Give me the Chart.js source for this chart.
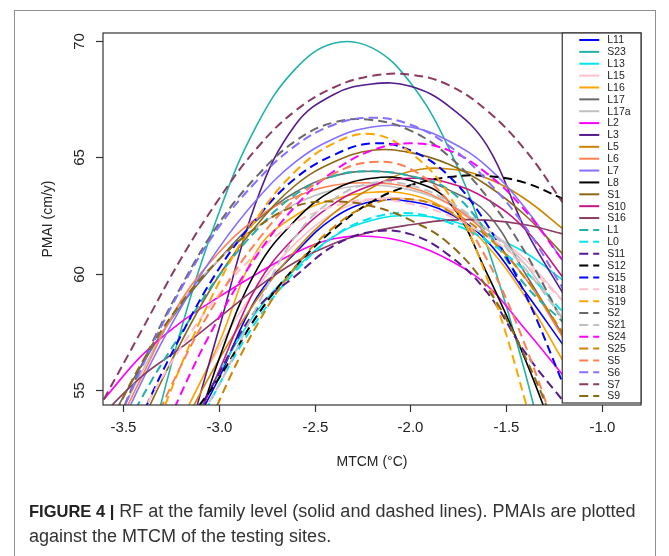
<!DOCTYPE html>
<html>
<head>
<meta charset="utf-8">
<script src="https://cdn.jsdelivr.net/npm/chart.js@4.4.1/dist/chart.umd.min.js"></script>
<style>
  body { margin: 0; background: #fff; }
  #wrap { position: relative; width: 669px; height: 556px; overflow: hidden; }
  #frame { position: absolute; left: 14px; top: 10px; width: 642px; height: 600px; border: 1.5px solid #8f8f8f; box-sizing: border-box; }
  #graf { position: absolute; left: 0; top: 0; }
  #caption { position: absolute; left: 29px; top: 499px; width: 625px; font-family: "Liberation Sans", Arial, sans-serif; font-size: 18px; line-height: 25px; color: #333; letter-spacing: 0; }
  #caption b { color: #222; font-size: 16.5px; }
</style>
</head>
<body>
<div id="wrap">
  <div id="frame"></div>
  <canvas id="graf" width="669" height="556"></canvas>
  <div id="caption"><b>FIGURE 4 |</b> RF at the family level (solid and dashed lines). PMAIs are plotted against the MTCM of the testing sites.</div>
</div>
<script>
// MTCM valores (eixo x)
const xValues = [-3.6, -3.4, -3.2, -3.0, -2.8, -2.6, -2.4, -2.2, -2.0, -1.8, -1.6, -1.4, -1.2];

// linhas solidas
const L11  = [44.0, 48.5, 52.3, 55.5, 59.0, 60.9, 62.4, 63.1, 63.1, 62.6, 61.4, 59.2, 56.9];
const S23  = [43.4, 51.1, 57.5, 62.6, 66.4, 68.8, 69.9, 69.7, 68.2, 65.4, 61.2, 55.7, 48.9];
const L13  = [45.0, 48.8, 52.5, 55.7, 58.4, 60.2, 61.6, 62.3, 62.5, 62.3, 61.7, 60.9, 59.7];
const L15  = [45.3, 49.8, 53.6, 56.8, 59.4, 61.3, 62.6, 63.2, 63.2, 62.8, 61.9, 60.6, 58.8];
const L16  = [46.0, 50.0, 53.6, 57.0, 61.0, 62.5, 63.2, 63.5, 63.4, 62.7, 61.2, 59.0, 56.2];
const L17  = [53.2, 56.1, 58.6, 60.6, 62.3, 63.5, 64.2, 64.4, 64.2, 63.6, 62.6, 60.0, 57.3];
const L17a = [52.5, 55.8, 58.7, 60.6, 62.0, 63.0, 63.6, 63.8, 63.6, 63.0, 61.9, 60.4, 58.0];
const L2   = [54.6, 56.5, 57.9, 59.0, 60.0, 60.9, 61.5, 61.6, 61.3, 60.6, 59.5, 57.6, 55.6];
const L3   = [40.0, 46.0, 51.8, 57.6, 63.2, 66.4, 67.7, 68.15, 68.05, 67.2, 65.5, 61.9, 59.1];
const L5   = [45.5, 49.6, 53.2, 56.3, 58.9, 61.0, 62.6, 63.7, 64.4, 64.5, 64.1, 63.2, 61.9];
const L6   = [52.2, 55.6, 58.8, 60.9, 62.4, 63.3, 63.8, 63.9, 63.7, 63.0, 61.7, 59.8, 57.2];
const L7   = [51.8, 55.4, 58.5, 61.1, 63.2, 64.8, 65.8, 66.3, 66.3, 65.7, 64.6, 62.8, 60.5];
const L8   = [41.0, 46.0, 51.0, 56.3, 60.2, 62.3, 63.6, 64.1, 64.0, 63.1, 60.0, 56.3, 52.0];
const S1   = [49.5, 53.6, 57.0, 59.9, 62.1, 63.8, 64.8, 65.3, 65.2, 64.7, 63.8, 62.5, 60.8];
const S10  = [44.0, 48.3, 52.2, 55.8, 59.5, 61.6, 63.0, 63.8, 64.1, 63.9, 63.2, 61.9, 59.8];
const S16  = [54.0, 55.6, 56.8, 58.1, 59.4, 60.5, 61.3, 61.8, 62.1, 62.3, 62.3, 62.1, 61.7];

// linhas tracejadas
const L1   = [51.5, 54.7, 57.4, 59.9, 61.9, 63.4, 64.2, 64.4, 64.2, 63.6, 61.8, 59.5, 57.9];
const L0   = [42.9, 47.7, 51.8, 55.2, 58.0, 60.1, 61.6, 62.4, 62.6, 62.2, 61.4, 60.1, 58.3];
const S11  = [44.0, 48.5, 52.5, 55.7, 58.5, 59.9, 61.2, 61.8, 61.7, 60.8, 59.2, 56.6, 54.5];
const S12  = [47.0, 50.3, 53.2, 55.5, 58.2, 60.3, 61.9, 63.1, 63.8, 64.15, 64.2, 63.9, 63.2];
const S15  = [49.8, 53.9, 57.3, 60.2, 62.4, 64.1, 65.1, 65.6, 65.3, 64.2, 62.1, 59.1, 55.2];
const S18  = [50.7, 54.0, 56.8, 59.1, 60.9, 62.2, 62.9, 63.2, 63.0, 62.5, 61.6, 60.4, 58.8];
const S19  = [46.4, 51.6, 56.0, 59.6, 62.4, 64.4, 65.6, 66.0, 65.2, 63.4, 59.8, 54.5, 48.0];
const S2   = [52.1, 56.1, 59.4, 62.15, 64.2, 65.7, 66.5, 66.6, 66.15, 65.05, 63.3, 60.9, 57.85];
const S21  = [46.0, 49.5, 52.5, 55.2, 58.6, 61.6, 63.2, 63.9, 63.8, 63.1, 61.9, 60.2, 58.0];
const S24  = [46.4, 50.9, 54.8, 58.1, 60.8, 62.9, 64.4, 65.3, 65.6, 65.3, 64.3, 62.7, 60.5];
const S25  = [40.1, 45.7, 50.5, 54.5, 57.8, 60.3, 62.0, 63.0, 63.2, 62.7, 61.6, 59.8, 57.4];
const S5   = [48.0, 52.3, 56.0, 59.0, 61.4, 63.2, 64.3, 64.8, 64.5, 63.1, 60.6, 56.9, 52.2];
const S6   = [52.2, 56.0, 59.3, 62.0, 64.0, 65.5, 66.4, 66.7, 66.4, 65.5, 64.0, 62.0, 59.3];
const S7   = [54.6, 57.6, 60.6, 63.2, 65.4, 67.0, 68.0, 68.5, 68.55, 68.1, 67.0, 65.3, 63.0];
const S9   = [53.0, 56.2, 58.7, 60.6, 62.0, 62.9, 63.1, 62.9, 62.3, 61.3, 59.4, 56.4, 52.5];

// ticks
const xTicks = [-3.5, -3.0, -2.5, -2.0, -1.5, -1.0];
const yTicks = [55, 60, 65, 70];

const series = [
    ['L11', L11, '#0000FF', false], ['S23', S23, '#20B2AA', false], ['L13', L13, '#00E5EE', false],
    ['L15', L15, '#FFC0CB', false], ['L16', L16, '#FFA500', false], ['L17', L17, '#696969', false],
    ['L17a', L17a, '#C0C0C0', false], ['L2', L2, '#FF00FF', false], ['L3', L3, '#551A8B', false],
    ['L5', L5, '#CD8500', false], ['L6', L6, '#FF7F50', false], ['L7', L7, '#8470FF', false],
    ['L8', L8, '#000000', false], ['S1', S1, '#8B6914', false], ['S10', S10, '#C71585', false],
    ['S16', S16, '#8B3A62', false],
    ['L1', L1, '#20B2AA', true], ['L0', L0, '#00E5EE', true], ['S11', S11, '#551A8B', true],
    ['S12', S12, '#000000', true], ['S15', S15, '#0000FF', true], ['S18', S18, '#FFC0CB', true],
    ['S19', S19, '#FFA500', true], ['S2', S2, '#696969', true], ['S21', S21, '#C0C0C0', true],
    ['S24', S24, '#FF00FF', true], ['S25', S25, '#CD8500', true], ['S5', S5, '#FF7F50', true],
    ['S6', S6, '#8470FF', true], ['S7', S7, '#8B3A62', true], ['S9', S9, '#8B6914', true]
];

const DASH = [9, 5];

const datasets = series.map(function (s, i) {
    return {
        label: s[0],
        data: xValues.map(function (x, j) { return {x: x, y: s[1][j]}; }),
        borderColor: s[2],
        borderWidth: s[3] ? 2 : 1.6,
        borderDash: s[3] ? DASH : [],
        pointRadius: 0,
        tension: 0.4,
        fill: false,
        order: series.length - i
    };
});

// eixos, moldura e legenda estilo R
const rAxes = {
    id: 'rAxes',
    afterDraw: function (chart) {
        const ctx = chart.ctx;
        const a = chart.chartArea;
        const xs = chart.scales.x;
        const ys = chart.scales.y;
        ctx.save();
        ctx.strokeStyle = '#333';
        ctx.lineWidth = 1.2;
        ctx.strokeRect(a.left, a.top, a.right - a.left, a.bottom - a.top);

        ctx.fillStyle = '#222';
        ctx.font = '15px "Liberation Sans", Arial, sans-serif';
        ctx.textAlign = 'center';
        ctx.textBaseline = 'middle';
        xTicks.forEach(function (t) {
            const px = Math.round(xs.getPixelForValue(t)) + 0.5;
            ctx.beginPath();
            ctx.moveTo(px, a.bottom);
            ctx.lineTo(px, a.bottom + 7);
            ctx.stroke();
            ctx.fillText(t.toFixed(1), px, a.bottom + 23);
        });
        yTicks.forEach(function (t) {
            const py = Math.round(ys.getPixelForValue(t)) + 0.5;
            ctx.beginPath();
            ctx.moveTo(a.left, py);
            ctx.lineTo(a.left - 7, py);
            ctx.stroke();
            ctx.save();
            ctx.translate(a.left - 23, py);
            ctx.rotate(-Math.PI / 2);
            ctx.fillText(String(t), 0, 0);
            ctx.restore();
        });

        ctx.font = '14px "Liberation Sans", Arial, sans-serif';
        ctx.fillText('MTCM (°C)', (a.left + a.right) / 2, a.bottom + 57);
        ctx.save();
        ctx.translate(a.left - 55, (a.top + a.bottom) / 2);
        ctx.rotate(-Math.PI / 2);
        ctx.fillText('PMAI (cm/y)', 0, 0);
        ctx.restore();

        // legenda
        const lx = xs.getPixelForValue(-1.2) - 1.5;
        const lb = a.bottom - 2;
        ctx.fillStyle = '#fff';
        ctx.fillRect(lx, a.top, a.right - lx, lb - a.top);
        ctx.strokeStyle = '#333';
        ctx.strokeRect(lx, a.top, a.right - lx, lb - a.top);
        ctx.font = '10.5px "Liberation Sans", Arial, sans-serif';
        ctx.textAlign = 'left';
        const step = 11.87;
        series.forEach(function (s, i) {
            const y = a.top + 7 + step * i;
            ctx.beginPath();
            ctx.strokeStyle = s[2];
            ctx.lineWidth = 2;
            ctx.setLineDash(s[3] ? DASH : []);
            ctx.moveTo(lx + 17, y);
            ctx.lineTo(lx + 37, y);
            ctx.stroke();
            ctx.setLineDash([]);
            ctx.fillStyle = '#222';
            ctx.fillText(s[0], lx + 45, y + 0.5);
        });
        ctx.restore();
    }
};

new Chart(document.getElementById('graf').getContext('2d'), {
    type: 'line',
    data: {datasets: datasets},
    options: {
        responsive: false,
        animation: false,
        layout: {padding: {left: 103, top: 33, right: 28, bottom: 151}},
        plugins: {legend: {display: false}, tooltip: {enabled: false}},
        scales: {
            x: {type: 'linear', display: false, min: -3.604, max: -0.797},
            y: {type: 'linear', display: false, min: 54.36, max: 70.34}
        }
    },
    plugins: [rAxes]
});
</script>
</body>
</html>
